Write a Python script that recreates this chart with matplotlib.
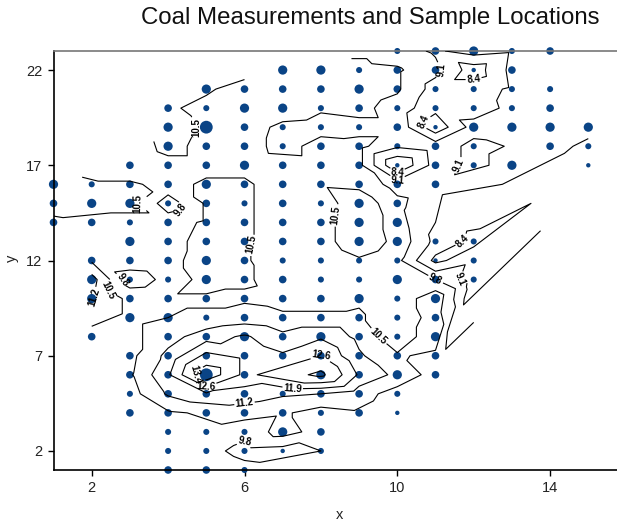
import numpy as np
import matplotlib.pyplot as plt
import matplotlib.tri as mtri

plt.rcParams['font.family'] = ['Liberation Sans', 'DejaVu Sans']

# sample grid, rows from y=23 down to y=1, columns x=1..15
# marker size class per location ('.' = no sample)
size_rows = [
    ".........smlsm.",
    "......llsmmtm..",
    "....lmmmlmssss.",
    "...msllsmssssm.",
    "...lxmsssmtllll",
    "...lmmsmmsms.ms",
    "..mmmlmmmtmsl.t",
    "lsmmlmmmmmm....",
    "mllsmsmslm.....",
    "mmsmmmmmll.....",
    "..lmmmmmllss...",
    ".mmmlmssssts...",
    ".lsslmmsslms...",
    ".lmmmmmmlsl....",
    "..llsmmmmsm....",
    ".m.mmlmlmsl....",
    "..mmmmmmmmm....",
    "..mmxm.lmlm....",
    "..smmmsmms.....",
    "..mmmmmsmt.....",
    "...ssslm.......",
    "...sssts.......",
    "...mms.........",
]

# coal thickness per location (None = no sample), same layout
N = None
thick_rows = [
    [N, N, N, N, N, N, N, N, N, 9.4, 9.0, 9.4, 9.2, 9.4, N],
    [N, N, N, N, N, N, 10.4, 10.4, 10.0, 9.9, 9.3, 8.0, 9.3, N, N],
    [N, N, N, N, 10.6, 10.2, 10.3, 10.2, 10.2, 9.9, 8.8, 8.8, 9.2, 9.3, N],
    [N, N, N, 10.6, 10.3, 10.2, 10.3, 9.9, 10.0, 9.5, 8.6, 8.7, 9.3, 9.4, N],
    [N, N, N, 10.8, 10.4, 10.2, 9.6, 9.5, 9.6, 9.6, 7.9, 9.4, 9.5, 9.5, 9.4],
    [N, N, N, 10.7, 10.3, 10.2, 9.5, 10.1, 10.0, 9.2, 9.5, 8.9, N, 9.4, 8.9],
    [N, N, 10.0, 10.3, 10.3, 10.3, 10.2, 10.1, 10.0, 7.7, 9.4, 8.9, 9.4, N, 8.6],
    [10.8, 10.6, 10.6, 10.3, 10.6, 10.6, 10.2, 10.4, 10.3, 9.5, 9.3, N, N, N, N],
    [10.7, 10.8, 10.8, 9.4, 10.6, 10.6, 10.2, 10.1, 11.0, 10.0, N, N, N, N, N],
    [10.4, 10.3, 10.2, 10.2, 10.6, 10.6, 10.2, 10.2, 11.0, 10.2, N, N, N, N, N],
    [N, N, 10.4, 10.3, 10.7, 10.6, 10.2, 10.2, 11.0, 10.3, 8.9, 8.2, N, N, N],
    [N, 10.4, 10.2, 10.3, 10.8, 10.6, 10.0, 9.9, 10.4, 10.0, 8.2, 8.9, N, N, N],
    [N, 11.5, 9.4, 10.0, 10.8, 10.6, 10.2, 10.0, 10.0, 10.0, 9.8, 8.7, N, N, N],
    [N, 11.3, 10.3, 10.4, 10.4, 10.4, 10.3, 10.3, 10.4, 10.0, 11.0, N, N, N, N],
    [N, N, 10.3, 10.5, 10.6, 10.8, 10.6, 10.6, 10.6, 10.0, 10.8, N, N, N, N],
    [N, 10.2, N, 10.9, 11.6, 12.0, 11.4, 11.8, 11.0, 10.0, 11.0, N, N, N, N],
    [N, N, 10.3, 11.4, 12.8, 12.4, 12.0, 12.6, 11.3, 10.6, 10.3, N, N, N, N],
    [N, N, 10.4, 11.8, 14.0, 12.4, N, 13.6, 11.8, 11.0, 10.2, N, N, N, N],
    [N, N, 10.2, 11.3, 11.8, 11.6, 11.3, 11.2, 10.8, 10.2, N, N, N, N, N],
    [N, N, 10.2, 10.4, 10.6, 10.8, 10.6, 10.2, 10.4, 10.0, N, N, N, N, N],
    [N, N, N, 10.2, 10.3, 10.0, 10.8, 10.2, N, N, N, N, N, N, N],
    [N, N, N, 10.0, 10.0, 9.6, 9.5, 9.8, N, N, N, N, N, N, N],
    [N, N, N, 10.2, 10.3, 10.0, N, N, N, N, N, N, N, N, N],
]

levels = [7.7, 8.4, 9.1, 9.8, 10.5, 11.2, 11.9, 12.6, 13.4]
marker_area = {'t': 10, 's': 19, 'm': 30, 'l': 44, 'x': 85}

xs, ys, areas, zx, zy, zv = [], [], [], [], [], []
for i, row in enumerate(size_rows):
    yv = 23 - i
    for j, ch in enumerate(row):
        if ch != '.':
            xs.append(j + 1)
            ys.append(yv)
            areas.append(marker_area[ch])
for i, row in enumerate(thick_rows):
    yv = 23 - i
    for j, v in enumerate(row):
        if v is not None:
            zx.append(j + 1)
            zy.append(yv)
            zv.append(v)

W, H = 617, 523
fig = plt.figure(figsize=(W / 100, H / 100), dpi=100)
ax = fig.add_axes([53.5 / W, 1 - 470 / H, (626.5 - 53.5) / W, (470 - 51) / H])

ax.scatter(xs, ys, s=areas, color='#0a4486', linewidths=0, clip_on=False, zorder=2)

tri = mtri.Triangulation(zx, zy)
# drop the long hull triangles on the left edge
px = np.array(zx, float)[tri.triangles]
py = np.array(zy, float)[tri.triangles]
edge = np.hypot(px - np.roll(px, 1, axis=1), py - np.roll(py, 1, axis=1)).max(axis=1)
tri.set_mask((edge > 3.0) & (px.mean(axis=1) < 5))

cs = ax.tricontour(tri, zv, levels=levels, colors='black', linewidths=0.8, zorder=3)
labs = ax.clabel(cs, fmt='%.1f', fontsize=7, inline=True, inline_spacing=2)
for t in labs:
    t.set_fontweight('bold')

ax.set_xlim(1, 16)
ax.set_ylim(1, 23)
ax.set_xticks([2, 6, 10, 14])
ax.set_yticks([2, 7, 12, 17, 22])
ax.tick_params(direction='out', length=4, width=1, labelsize=10.5, colors='black',
               labelcolor='#222222', pad=4)
ax.spines['right'].set_visible(False)
ax.spines['top'].set_color('#777777')
for sp in ['left', 'bottom', 'top']:
    ax.spines[sp].set_linewidth(1.2)

fig.text(370 / W, 1 - 18 / H, 'Coal Measurements and Sample Locations',
         ha='center', va='center', fontsize=17.3, color='#111111')
fig.text(340 / W, 1 - 515 / H, 'x', ha='center', va='center', fontsize=10.5, color='#222222')
fig.text(12 / W, 1 - 258 / H, 'y', ha='center', va='center', fontsize=10.5,
         rotation=90, color='#222222')

fig.savefig('out.png', dpi=100)
